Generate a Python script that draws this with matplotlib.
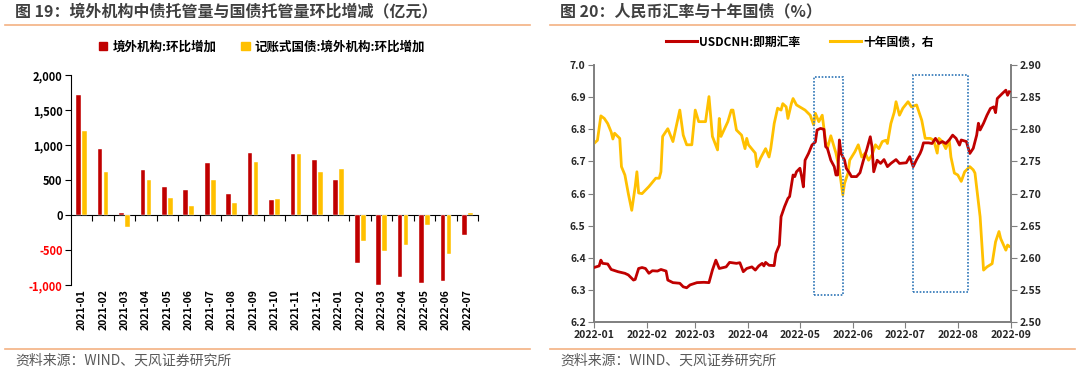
import matplotlib
matplotlib.use("Agg")
import matplotlib.pyplot as plt
import matplotlib.dates as mdates
from matplotlib.lines import Line2D
from matplotlib.patches import Patch, Rectangle
from matplotlib.ticker import FuncFormatter, MultipleLocator
import numpy as np

plt.rcParams["font.family"] = ["Noto Sans CJK SC", "DejaVu Sans"]
plt.rcParams["axes.unicode_minus"] = False

RED = "#C00000"
YELLOW = "#FFC000"
GRAY_TXT = "#404040"
ORANGE_LINE = "#F4B183"
BOX_BLUE = "#2E75B6"

# ---- 图19 数据 ----
months = ["2021-01", "2021-02", "2021-03", "2021-04", "2021-05", "2021-06", "2021-07",
          "2021-08", "2021-09", "2021-10", "2021-11", "2021-12", "2022-01", "2022-02",
          "2022-03", "2022-04", "2022-05", "2022-06", "2022-07"]
foreign_chg = [1710, 945, 30, 645, 405, 355, 745, 300, 880, 220, 870, 785, 500,
               -680, -995, -885, -970, -950, -285]
treasury_chg = [1200, 615, -165, 505, 250, 125, 495, 165, 760, 235, 870, 615, 655,
                -365, -520, -425, -145, -555, 30]

# ---- 图20 数据 ----
cnh_dates = ["01-01", "01-04", "01-05", "01-06", "01-09", "01-11", "01-15", "01-19", "01-21",
             "01-24", "01-25", "01-27", "01-29", "01-31", "02-02", "02-04", "02-07", "02-09",
             "02-12", "02-13", "02-16", "02-20", "02-22", "02-24", "02-26", "03-02", "03-06",
             "03-09", "03-11", "03-13", "03-15", "03-19", "03-21", "03-25", "03-27", "03-29",
             "03-31", "04-03", "04-05", "04-07", "04-09", "04-10", "04-11", "04-13", "04-16",
             "04-17", "04-19", "04-20", "04-22", "04-24", "04-25", "04-27", "04-28", "04-29",
             "05-01", "05-02", "05-03", "05-04", "05-06", "05-08", "05-10", "05-11", "05-13",
             "05-15", "05-16", "05-17", "05-19", "05-21", "05-22", "05-23", "05-24", "05-25",
             "05-27", "05-28", "05-30", "05-31", "06-03", "06-05", "06-07", "06-09", "06-11",
             "06-12", "06-13", "06-15", "06-17", "06-19", "06-21", "06-23", "06-26", "06-28",
             "07-02", "07-04", "07-06", "07-08", "07-10", "07-11", "07-12", "07-15", "07-17",
             "07-19", "07-21", "07-23", "07-25", "07-27", "07-29", "07-31", "08-02", "08-03",
             "08-06", "08-08", "08-10", "08-12", "08-13", "08-14", "08-16", "08-18", "08-20",
             "08-22", "08-23", "08-24", "08-27", "08-29", "08-30", "08-31"]
cnh_values = [6.370, 6.375, 6.393, 6.383, 6.381, 6.364, 6.357, 6.352, 6.347,
              6.331, 6.333, 6.367, 6.370, 6.367, 6.352, 6.360, 6.359, 6.364,
              6.359, 6.331, 6.323, 6.321, 6.310, 6.307, 6.316, 6.323, 6.324,
              6.323, 6.362, 6.393, 6.367, 6.372, 6.386, 6.383, 6.385, 6.357,
              6.367, 6.372, 6.362, 6.375, 6.383, 6.375, 6.386, 6.377, 6.376,
              6.414, 6.440, 6.528, 6.559, 6.585, 6.591, 6.658, 6.653, 6.668,
              6.679, 6.653, 6.621, 6.704, 6.725, 6.751, 6.761, 6.798, 6.803,
              6.800, 6.746, 6.741, 6.704, 6.684, 6.658, 6.658, 6.767, 6.725,
              6.704, 6.679, 6.663, 6.653, 6.653, 6.665, 6.704, 6.738, 6.777,
              6.746, 6.668, 6.704, 6.694, 6.706, 6.684, 6.694, 6.706, 6.694,
              6.696, 6.715, 6.684, 6.706, 6.725, 6.738, 6.758, 6.758, 6.756,
              6.772, 6.756, 6.762, 6.756, 6.767, 6.782, 6.772, 6.751, 6.767,
              6.762, 6.725, 6.741, 6.782, 6.819, 6.798, 6.819, 6.844, 6.865,
              6.870, 6.852, 6.896, 6.912, 6.922, 6.906, 6.917]

cgb_dates = ["01-01", "01-03", "01-05", "01-07", "01-09", "01-11", "01-12", "01-13", "01-16",
             "01-17", "01-19", "01-21", "01-23", "01-25", "01-26", "01-27", "01-29", "02-02",
             "02-06", "02-08", "02-09", "02-10", "02-13", "02-16", "02-20", "02-22", "02-24",
             "02-27", "03-01", "03-03", "03-07", "03-09", "03-11", "03-14", "03-15", "03-16",
             "03-20", "03-22", "03-23", "03-25", "03-28", "03-30", "03-31", "04-01", "04-05",
             "04-06", "04-08", "04-11", "04-13", "04-14", "04-16", "04-18", "04-20", "04-21",
             "04-23", "04-24", "04-26", "04-27", "04-29", "05-04", "05-07", "05-09", "05-10",
             "05-12", "05-14", "05-16", "05-17", "05-19", "05-22", "05-24", "05-26", "05-27",
             "05-29", "05-30", "06-02", "06-04", "06-06", "06-08", "06-10", "06-12", "06-14",
             "06-16", "06-18", "06-20", "06-21", "06-23", "06-25", "06-26", "06-28", "06-30",
             "07-03", "07-05", "07-08", "07-11", "07-13", "07-16", "07-18", "07-20", "07-21",
             "07-23", "07-25", "07-27", "07-28", "07-30", "08-01", "08-03", "08-05", "08-08",
             "08-10", "08-11", "08-14", "08-16", "08-18", "08-21", "08-23", "08-25", "08-26",
             "08-29", "08-30", "08-31"]
cgb_values = [2.778, 2.783, 2.821, 2.817, 2.809, 2.796, 2.785, 2.794, 2.786,
              2.742, 2.729, 2.700, 2.674, 2.711, 2.734, 2.701, 2.700, 2.711,
              2.724, 2.724, 2.734, 2.789, 2.801, 2.781, 2.830, 2.791, 2.776,
              2.776, 2.830, 2.812, 2.812, 2.851, 2.789, 2.768, 2.817, 2.789,
              2.812, 2.830, 2.830, 2.799, 2.791, 2.770, 2.786, 2.776, 2.763,
              2.742, 2.755, 2.770, 2.757, 2.770, 2.809, 2.833, 2.830, 2.840,
              2.835, 2.817, 2.840, 2.848, 2.838, 2.830, 2.822, 2.807, 2.825,
              2.812, 2.822, 2.781, 2.770, 2.790, 2.763, 2.737, 2.698, 2.716,
              2.732, 2.752, 2.765, 2.776, 2.757, 2.763, 2.752, 2.760, 2.776,
              2.770, 2.781, 2.783, 2.778, 2.809, 2.827, 2.843, 2.822, 2.833,
              2.843, 2.835, 2.838, 2.814, 2.786, 2.786, 2.783, 2.763, 2.786,
              2.781, 2.770, 2.783, 2.757, 2.732, 2.729, 2.719, 2.734, 2.742,
              2.737, 2.732, 2.664, 2.581, 2.586, 2.591, 2.625, 2.641, 2.630,
              2.612, 2.620, 2.618]

# 蓝色虚线框 (起止日期, 左轴上下沿)
box_ranges = [("2022-05-09", "2022-05-26", 6.284, 6.964),
              ("2022-07-06", "2022-08-07", 6.294, 6.969)]


def header(fig, x0, x1, title):
    fig.text(x0 + 10 / 1080, 0.968, title, fontsize=11.5, fontweight="bold",
             color=GRAY_TXT, va="center", ha="left")
    fig.add_artist(Line2D([x0, x1], [0.932, 0.932], color=ORANGE_LINE, lw=1.2))
    fig.add_artist(Line2D([x0, x1], [0.062, 0.062], color=ORANGE_LINE, lw=1.2))
    fig.text(x0 + 10 / 1080, 0.030, "资料来源：WIND、天风证券研究所", fontsize=10,
             color="#595959", va="center", ha="left")


fig = plt.figure(figsize=(10.8, 3.72), dpi=100, facecolor="white")

header(fig, 5 / 1080, 530 / 1080, "图 19：境外机构中债托管量与国债托管量环比增减（亿元）")
header(fig, 550 / 1080, 1075 / 1080, "图 20：人民币汇率与十年国债（%）")

# ---------------- 图19 ----------------
ax1 = fig.add_axes([71 / 1080, 0.234, 407 / 1080, 0.564])
x = np.arange(len(months))
w = 0.22
ax1.bar(x - 0.14, foreign_chg, width=w, color=RED, edgecolor="white", linewidth=0.3, zorder=3)
ax1.bar(x + 0.14, treasury_chg, width=w, color=YELLOW, edgecolor="white", linewidth=0.3, zorder=3)
ax1.set_xlim(-0.5, len(months) - 0.5)
ax1.set_ylim(-1000, 2000)
ax1.yaxis.set_major_locator(MultipleLocator(500))
ax1.yaxis.set_major_formatter(FuncFormatter(lambda v, p: f"{int(v):,}"))
for s in ["top", "right", "bottom"]:
    ax1.spines[s].set_visible(False)
ax1.spines["left"].set_color("black")
ax1.tick_params(axis="y", direction="out", length=4, labelsize=8, pad=2)
for lab in ax1.get_yticklabels():
    lab.set_fontweight("bold")
    if lab.get_text().startswith("-"):
        lab.set_color("#FF0000")
ax1.set_xticks(x, months, rotation=90, fontsize=7.5, fontweight="bold")
ax1.tick_params(axis="x", length=0, pad=3)
zero_ax = ax1.secondary_xaxis(1 / 3)
zero_ax.set_xticks(np.arange(0.5, len(months), 1.0))
zero_ax.set_xticklabels([])
zero_ax.tick_params(direction="out", length=4, color="black")
zero_ax.spines["bottom"].set_color("black")

fig.legend(handles=[Patch(color=RED, label="境外机构:环比增加"),
                    Patch(color=YELLOW, label="记账式国债:境外机构:环比增加")],
           loc="center", bbox_to_anchor=(262 / 1080, 0.874), ncol=2, frameon=False,
           prop={"size": 9, "weight": "bold"}, handlelength=0.7, handleheight=0.7,
           handletextpad=0.4, columnspacing=2.0)

# ---------------- 图20 ----------------
ax2 = fig.add_axes([594 / 1080, 0.134, 417 / 1080, 0.691])
d_cnh = np.array(["2022-" + d for d in cnh_dates], dtype="datetime64[D]")
d_cgb = np.array(["2022-" + d for d in cgb_dates], dtype="datetime64[D]")
ax2.plot(d_cnh, cnh_values, color=RED, lw=2.0, zorder=4)
ax2.set_ylim(6.2, 7.0)
ax2.set_xlim(np.datetime64("2022-01-01"), np.datetime64("2022-09-01"))
ax2.yaxis.set_major_locator(MultipleLocator(0.1))
ax2.yaxis.set_major_formatter(FuncFormatter(lambda v, p: f"{v:.1f}"))
ax2.xaxis.set_major_locator(mdates.MonthLocator())
ax2.xaxis.set_major_formatter(mdates.DateFormatter("%Y-%m"))

ax3 = ax2.twinx()
ax3.plot(d_cgb, cgb_values, color=YELLOW, lw=2.0, zorder=3)
ax3.set_ylim(2.50, 2.90)
ax3.yaxis.set_major_locator(MultipleLocator(0.05))
ax3.yaxis.set_major_formatter(FuncFormatter(lambda v, p: f"{v:.2f}"))
ax2.set_zorder(ax3.get_zorder() + 1)
ax2.patch.set_visible(False)

for a in (ax2, ax3):
    a.spines["top"].set_visible(False)
    for s in ["left", "right", "bottom"]:
        a.spines[s].set_color("#7F7F7F")
        a.spines[s].set_linewidth(1.2)
    a.tick_params(direction="out", length=4, labelsize=7.5, color="#7F7F7F", pad=2)
    for lab in a.get_yticklabels() + a.get_xticklabels():
        lab.set_fontweight("bold")
        lab.set_color("#262626")

for start, end, lo, hi in box_ranges:
    s = mdates.date2num(np.datetime64(start))
    e = mdates.date2num(np.datetime64(end))
    ax2.add_patch(Rectangle((s, lo), e - s, hi - lo, fill=False, edgecolor=BOX_BLUE,
                            linestyle=(0, (1, 1)), lw=1.2, zorder=5))

fig.legend(handles=[Line2D([], [], color=RED, lw=2.2, label="USDCNH:即期汇率"),
                    Line2D([], [], color=YELLOW, lw=2.2, label="十年国债，右")],
           loc="center", bbox_to_anchor=(800 / 1080, 0.887), ncol=2, frameon=False,
           prop={"size": 8.5, "weight": "bold"}, handlelength=2.6,
           handletextpad=0.2, columnspacing=2.5)

fig.savefig("out.png", dpi=100, facecolor="white")
